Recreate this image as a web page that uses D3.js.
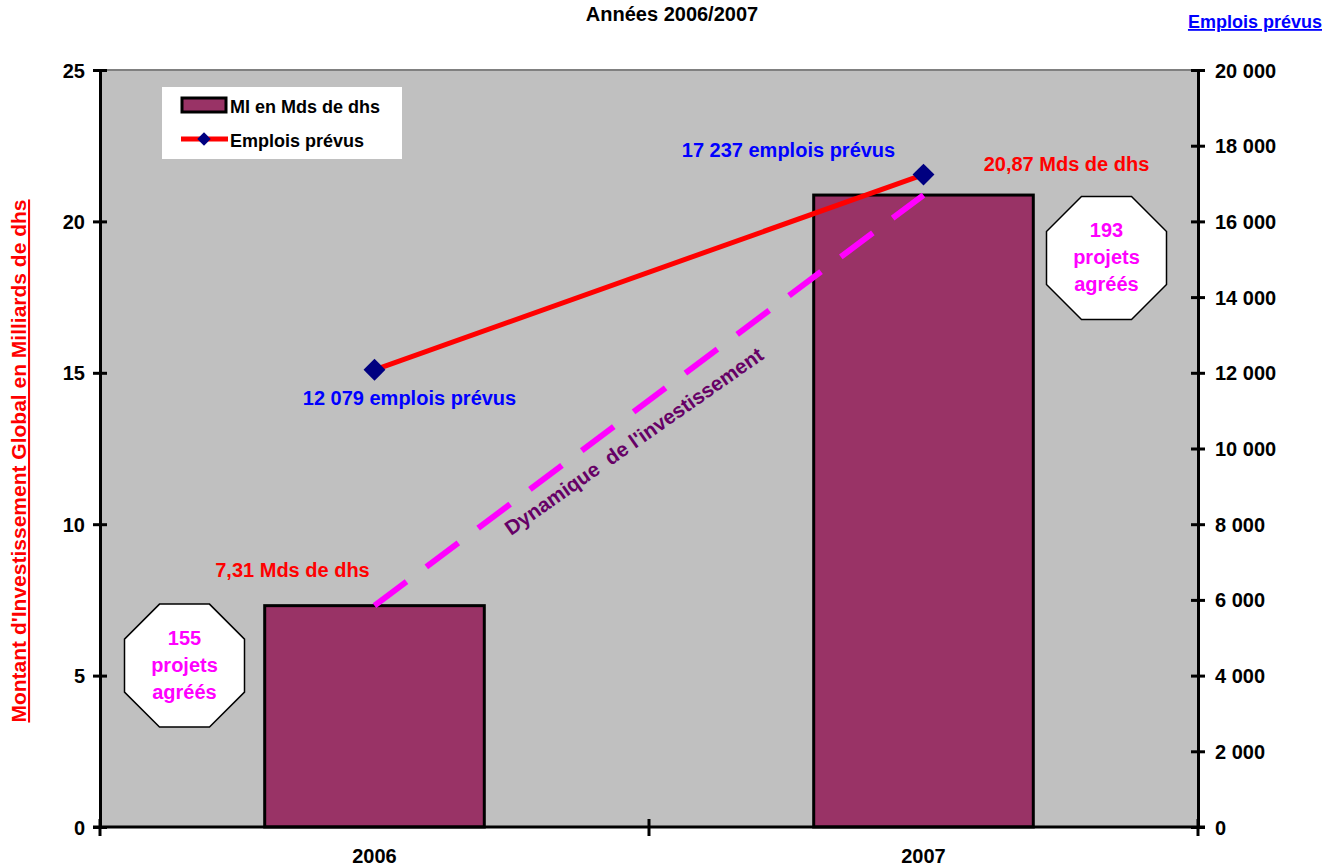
<!DOCTYPE html>
<html><head><meta charset="utf-8">
<script src="https://cdn.jsdelivr.net/npm/d3@7"></script>
<style>
body{margin:0;background:#fff}
svg text{font-family:"Liberation Sans",Arial,Helvetica,sans-serif;font-weight:bold}
</style>
</head><body>
<svg id="chart" width="1323" height="867"></svg>
<script>
// ---- data ----
const categories = ["2006", "2007"];
const investment = [7.31, 20.87];            // Mds de dhs (left axis)
const jobs = [12079, 17237];                  // emplois prévus (right axis)
const investLabels = ["7,31 Mds de dhs", "20,87 Mds de dhs"];
const jobLabels = ["12 079 emplois prévus", "17 237 emplois prévus"];
const projectCounts = ["155", "193"];
const leftTicks = [0, 5, 10, 15, 20, 25];
const rightTicks = [0, 2000, 4000, 6000, 8000, 10000, 12000, 14000, 16000, 18000, 20000];
const seriesNames = ["MI en Mds de dhs", "Emplois prévus"];
const chartTitle = "Années 2006/2007";
const leftTitle = "Montant d'Investissement Global en Milliards de dhs";
const rightTitle = "Emplois prévus";
const trendLabel = "Dynamique\u00a0 de l'investissement";

// ---- layout ----
const svg = d3.select("#chart");
const L = 100, R = 1198, T = 70, B = 827;
const FS = 20;

const x = d3.scaleBand().domain(categories).range([L, R]).paddingInner(0.6).paddingOuter(0.3);
const yL = d3.scaleLinear().domain([0, 25]).range([B, T]);
const yR = d3.scaleLinear().domain([0, 20000]).range([B, T]);
const cx = c => x(c) + x.bandwidth() / 2;
const fr = d3.formatLocale({decimal: ",", thousands: " ", grouping: [3], currency: ["", ""]}).format(",d");

// plot area
svg.append("rect").attr("x", L).attr("y", T).attr("width", R - L).attr("height", B - T).attr("fill", "#c0c0c0");
svg.append("line").attr("x1", L).attr("x2", R).attr("y1", T).attr("y2", T).attr("stroke", "#808080").attr("stroke-width", 2);

// bars
svg.append("g").selectAll("rect").data(categories).join("rect")
  .attr("x", c => x(c)).attr("y", (c, i) => yL(investment[i]))
  .attr("width", x.bandwidth()).attr("height", (c, i) => B - yL(investment[i]))
  .attr("fill", "#993366").attr("stroke", "#000").attr("stroke-width", 3);

// trend dashed line
svg.append("line")
  .attr("x1", cx(categories[0])).attr("y1", yL(investment[0]))
  .attr("x2", cx(categories[1])).attr("y2", yL(investment[1]))
  .attr("stroke", "#ff00ff").attr("stroke-width", 6).attr("stroke-dasharray", "40,24.7");

// trend label
svg.append("text").attr("transform", "translate(638,447) rotate(-35)")
  .attr("text-anchor", "middle").attr("font-size", 20.5).attr("fill", "#660066")
  .text(trendLabel);

// jobs line
const line = d3.line().x((d, i) => cx(categories[i])).y(d => yR(d));
svg.append("path").datum(jobs).attr("d", line).attr("fill", "none")
  .attr("stroke", "#ff0000").attr("stroke-width", 5);
svg.append("g").selectAll("path").data(jobs).join("path")
  .attr("d", d3.symbol(d3.symbolSquare, 240)())
  .attr("transform", (d, i) => `translate(${cx(categories[i])},${yR(d)}) rotate(45)`)
  .attr("fill", "#000080");

// data labels
const investOff = [[-82, -29], [143, -24]];
svg.append("g").selectAll("text").data(investLabels).join("text")
  .attr("x", (d, i) => cx(categories[i]) + investOff[i][0])
  .attr("y", (d, i) => yL(investment[i]) + investOff[i][1])
  .attr("text-anchor", "middle").attr("font-size", FS).attr("fill", "#ff0000").text(d => d);
const jobOff = [[35, 35], [-135, -18]];
svg.append("g").selectAll("text").data(jobLabels).join("text")
  .attr("x", (d, i) => cx(categories[i]) + jobOff[i][0])
  .attr("y", (d, i) => yR(jobs[i]) + jobOff[i][1])
  .attr("text-anchor", "middle").attr("font-size", FS).attr("fill", "#0000ff").text(d => d);

// octagons
const octPos = [[-190, 5.33], [183, 18.79]];
const ow = 120, oh = 123, oc = 35;
projectCounts.forEach((n, i) => {
  const ox = cx(categories[i]) + octPos[i][0], oy = yL(octPos[i][1]);
  const pts = [[ox - ow/2 + oc, oy - oh/2], [ox + ow/2 - oc, oy - oh/2], [ox + ow/2, oy - oh/2 + oc], [ox + ow/2, oy + oh/2 - oc],
               [ox + ow/2 - oc, oy + oh/2], [ox - ow/2 + oc, oy + oh/2], [ox - ow/2, oy + oh/2 - oc], [ox - ow/2, oy - oh/2 + oc]];
  svg.append("polygon").attr("points", pts.map(p => p.join(",")).join(" "))
    .attr("fill", "#fff").attr("stroke", "#000").attr("stroke-width", 1.5);
  const g = svg.append("text").attr("text-anchor", "middle").attr("font-size", FS).attr("fill", "#ff00ff");
  [n, "projets", "agréés"].forEach((t, k) => g.append("tspan").attr("x", ox).attr("y", oy - 21 + k * 27).text(t));
});

// left axis
const axL = svg.append("g").attr("transform", `translate(${L},0)`)
  .call(d3.axisLeft(yL).tickValues(leftTicks).tickSizeOuter(0).tickSizeInner(7).tickPadding(8));
axL.select(".domain").attr("stroke-width", 3);
axL.selectAll(".tick line").attr("x1", 7).attr("x2", -7).attr("stroke-width", 3);
axL.selectAll(".tick text").attr("font-size", FS).attr("font-family", null).attr("x", -15).attr("dy", "0.35em");

// right axis
const axR = svg.append("g").attr("transform", `translate(${R},0)`)
  .call(d3.axisRight(yR).tickValues(rightTicks).tickFormat(fr).tickSizeOuter(0).tickSizeInner(7));
axR.select(".domain").attr("stroke-width", 3);
axR.selectAll(".tick line").attr("x1", -7).attr("x2", 7).attr("stroke-width", 3);
axR.selectAll(".tick text").attr("font-size", FS).attr("font-family", null).attr("x", 17).attr("dy", "0.35em");

// bottom axis
const axB = svg.append("g").attr("transform", `translate(0,${B})`)
  .call(d3.axisBottom(x).tickSize(0).tickSizeOuter(0));
axB.select(".domain").attr("stroke-width", 3).attr("d", `M${L - 7},0H${R + 7}`);
axB.selectAll(".tick text").attr("font-size", FS).attr("font-family", null).attr("y", 36).attr("dy", null);
const bounds = d3.range(categories.length + 1).map(i => L + i * x.step());
axB.selectAll(".bnd").data(bounds).join("line").attr("class", "bnd")
  .attr("x1", d => d).attr("x2", d => d).attr("y1", -8).attr("y2", 9)
  .attr("stroke", "#000").attr("stroke-width", 3);

// titles
svg.append("text").attr("x", 672).attr("y", 21).attr("text-anchor", "middle").attr("font-size", FS).attr("fill", "#000").text(chartTitle);
svg.append("text").attr("x", 1322).attr("y", 28).attr("text-anchor", "end").attr("font-size", 18)
  .attr("fill", "#0000ff").attr("text-decoration", "underline").text(rightTitle);
svg.append("text").attr("transform", "translate(26,461) rotate(-90)").attr("text-anchor", "middle")
  .attr("font-size", 21).attr("fill", "#ff0000").attr("text-decoration", "underline").text(leftTitle);

// legend
const lg = svg.append("g");
lg.append("rect").attr("x", 162).attr("y", 87).attr("width", 240).attr("height", 72).attr("fill", "#fff");
lg.append("rect").attr("x", 182).attr("y", 98).attr("width", 44).attr("height", 14)
  .attr("fill", "#993366").attr("stroke", "#000").attr("stroke-width", 3);
lg.append("line").attr("x1", 181).attr("x2", 228).attr("y1", 139).attr("y2", 139).attr("stroke", "#ff0000").attr("stroke-width", 5);
lg.append("path").attr("d", d3.symbol(d3.symbolSquare, 90)()).attr("transform", "translate(204,139) rotate(45)").attr("fill", "#000080");
lg.selectAll(".lt").data(seriesNames).join("text").attr("class", "lt")
  .attr("x", 230).attr("y", (d, i) => 113 + i * 34).attr("font-size", 18).attr("fill", "#000").text(d => d);
</script>
</body></html>
